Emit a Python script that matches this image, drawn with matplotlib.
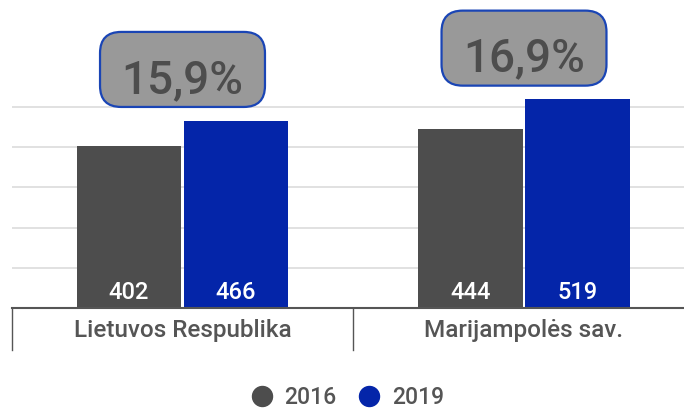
import numpy as np
import matplotlib.pyplot as plt
from matplotlib.patches import FancyBboxPatch
from matplotlib.lines import Line2D

plt.rcParams['font.family'] = ['Roboto', 'DejaVu Sans']

# duomenys
categories = ['Lietuvos Respublika', 'Marijampolės sav.']
years = ['2016', '2019']
values_2016 = [402, 444]
values_2019 = [466, 519]

col_2016 = '#4d4d4d'
col_2019 = '#0425a9'

fig = plt.figure(figsize=(6.84, 4.09), dpi=100)
ax = fig.add_axes([11.75 / 684, 101 / 409, 1 - 11.75 / 684, 308 / 409])

x = np.arange(len(categories))
w = 0.305
off = 0.1565
ax.bar(x - off, values_2016, w, color=col_2016, zorder=3)
ax.bar(x + off, values_2019, w, color=col_2019, zorder=3)

ax.set_xlim(-0.5, 1.4685)
ax.set_ylim(0, 766)
ax.set_yticks([100, 200, 300, 400, 500])
ax.yaxis.grid(True, color='#dcdcdc', lw=1.2, zorder=0)
ax.tick_params(left=False, labelleft=False, bottom=False, labelbottom=False)
for s in ['top', 'right', 'left']:
    ax.spines[s].set_visible(False)
ax.spines['bottom'].set_color('#555555')
ax.spines['bottom'].set_linewidth(1.5)
ax.spines['bottom'].set_zorder(4)

# reikšmės stulpeliuose
for i in range(len(categories)):
    for xx, v in [(x[i] - off, values_2016[i]), (x[i] + off, values_2019[i])]:
        ax.text(xx, 22.4, str(v), ha='center', va='baseline', color='white',
                fontsize=17, fontweight='medium', zorder=5)

# kategorijų pavadinimai ir skirtukai
trans = ax.get_xaxis_transform()
for i, c in enumerate(categories):
    ax.annotate(c, xy=(i, 0), xycoords=trans, xytext=(0, -20.7),
                textcoords='offset points', ha='center', va='baseline',
                fontsize=17.5, fontweight='medium', color='#555555')
for sx in [-0.5, 0.5]:
    ax.plot([sx, sx], [0, -0.136], transform=trans, color='#555555',
            lw=1.0, clip_on=False)

# pokytis procentais
bw, bh = 0.483, 186.6
for i in range(len(categories)):
    growth = (values_2019[i] / values_2016[i] - 1) * 100
    label = f'{growth:.1f}%'.replace('.', ',')
    y0 = values_2019[i] + 34
    box = FancyBboxPatch((x[i] - bw / 2, y0), bw, bh,
                         boxstyle='round,pad=0,rounding_size=0.062',
                         mutation_aspect=848, facecolor='#999999',
                         edgecolor='#1a45b5', lw=1.6, zorder=6, clip_on=False)
    ax.add_patch(box)
    ax.text(x[i], values_2019[i] + 69, label, ha='center', va='baseline',
            fontsize=33, fontweight='medium', color='#4d4d4d', zorder=7)

# legenda
handles = [Line2D([], [], ls='none', marker='o', markersize=14.4,
                  markerfacecolor=c, markeredgecolor=c)
           for c in [col_2016, col_2019]]
leg = fig.legend(handles, years, loc='center',
                 bbox_to_anchor=(347 / 684, 1 - 398 / 409),
                 ncol=2, frameon=False, handlelength=1.0,
                 handletextpad=0.5, columnspacing=0.9, fontsize=16.5)
for t in leg.get_texts():
    t.set_color('#555555')
    t.set_fontweight('medium')

plt.savefig('out.png', dpi=100)
